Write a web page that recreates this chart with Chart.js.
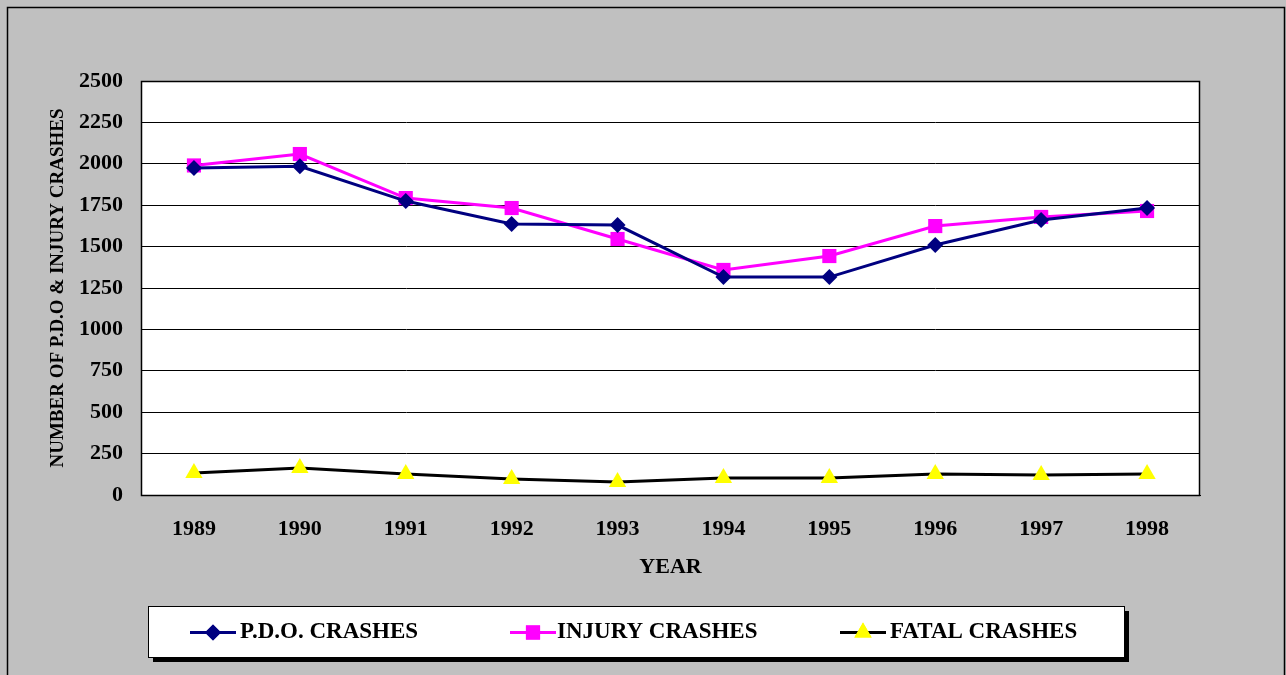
<!DOCTYPE html>
<html>
<head>
<meta charset="utf-8">
<script src="https://cdn.jsdelivr.net/npm/chart.js@4.4.1/dist/chart.umd.min.js"></script>
<style>
html,body{margin:0;padding:0;background:#c0c0c0;}
#wrap{position:relative;width:1286px;height:675px;}
</style>
</head>
<body>
<div id="wrap"><canvas id="c" width="1286" height="675"></canvas></div>
<script>
const years = ['1989','1990','1991','1992','1993','1994','1995','1996','1997','1998'];
const pdoCrashes = [1975, 1985, 1775, 1636, 1630, 1316, 1316, 1510, 1661, 1733];
const injuryCrashes = [1990, 2059, 1793, 1733, 1546, 1359, 1443, 1624, 1679, 1715];
const fatalCrashes = [133, 163, 127, 97, 79, 103, 103, 127, 121, 127];
const seriesNames = ['P.D.O. CRASHES', 'INJURY CRASHES', 'FATAL CRASHES'];
const yAxisTitle = 'NUMBER OF P.D.O & INJURY CRASHES';
const xAxisTitle = 'YEAR';

const FONT = '"Liberation Serif", "Times New Roman", serif';

function drawMarker(ctx, style, r, x, y, color) {
  ctx.save();
  ctx.fillStyle = color;
  ctx.strokeStyle = color;
  Chart.helpers.drawPoint(ctx, {pointStyle: style, radius: r, borderWidth: 0}, x, y);
  ctx.fill();
  ctx.restore();
}

const frame = {
  id: 'frame',
  beforeDraw(chart) {
    const ctx = chart.ctx, a = chart.chartArea;
    ctx.save();
    ctx.fillStyle = '#c0c0c0';
    ctx.fillRect(0, 0, chart.width, chart.height);
    ctx.strokeStyle = '#000';
    ctx.lineWidth = 1.5;
    ctx.strokeRect(7.5, 7.5, 1277, 700);
    ctx.fillStyle = '#fff';
    ctx.fillRect(a.left, a.top, a.right - a.left, a.bottom - a.top);
    ctx.restore();
  },
  afterDatasetsDraw(chart) {
    const ctx = chart.ctx, a = chart.chartArea;
    ctx.save();
    ctx.strokeStyle = '#000';
    ctx.lineWidth = 1.5;
    ctx.strokeRect(a.left + 0.5, a.top + 0.5, a.right - a.left - 1, a.bottom - a.top);
    ctx.restore();
  },
  afterDraw(chart) {
    const ctx = chart.ctx;
    const bx = 148, by = 606, bw = 976, bh = 51;
    ctx.save();
    ctx.fillStyle = '#000';
    ctx.fillRect(bx + 5, by + 5, bw, bh);
    ctx.fillStyle = '#fff';
    ctx.fillRect(bx, by, bw, bh);
    ctx.strokeStyle = '#000';
    ctx.lineWidth = 1;
    ctx.strokeRect(bx + 0.5, by + 0.5, bw, bh);
    const items = [{x0:190, tx:240}, {x0:510, tx:557}, {x0:840, tx:890}];
    const cy = by + bh / 2 + 1;
    chart.data.datasets.forEach((ds, i) => {
      const it = items[i];
      ctx.strokeStyle = ds.borderColor;
      ctx.lineWidth = 3;
      ctx.beginPath();
      ctx.moveTo(it.x0, cy);
      ctx.lineTo(it.x0 + 46, cy);
      ctx.stroke();
      drawMarker(ctx, ds.pointStyle, ds.pointRadius, it.x0 + 23, cy, ds.pointBackgroundColor);
      ctx.fillStyle = '#000';
      ctx.font = 'bold 23px ' + FONT;
      ctx.textBaseline = 'middle';
      ctx.textAlign = 'left';
      ctx.fillText(ds.label, it.tx, cy);
    });
    ctx.restore();
  }
};

new Chart(document.getElementById('c'), {
  type: 'line',
  data: {
    labels: years,
    datasets: [
      {label: seriesNames[0], data: pdoCrashes, borderColor: '#000080', backgroundColor: '#000080',
       pointBackgroundColor: '#000080', pointBorderColor: '#000080', pointBorderWidth: 0,
       pointStyle: 'rectRot', pointRadius: 8, borderWidth: 3, tension: 0},
      {label: seriesNames[1], data: injuryCrashes, borderColor: '#ff00ff', backgroundColor: '#ff00ff',
       pointBackgroundColor: '#ff00ff', pointBorderColor: '#ff00ff', pointBorderWidth: 0,
       pointStyle: 'rect', pointRadius: 10, borderWidth: 3, tension: 0},
      {label: seriesNames[2], data: fatalCrashes, borderColor: '#000000', backgroundColor: '#ffff00',
       pointBackgroundColor: '#ffff00', pointBorderColor: '#ffff00', pointBorderWidth: 0,
       pointStyle: 'triangle', pointRadius: 10, borderWidth: 3, tension: 0}
    ]
  },
  options: {
    responsive: false,
    animation: false,
    layout: {padding: {left: 0, top: 81, right: 86, bottom: 0}},
    plugins: {legend: {display: false}, tooltip: {enabled: false}},
    scales: {
      x: {
        offset: true,
        grid: {display: false, drawTicks: false},
        border: {display: true, color: '#000', width: 1},
        ticks: {color: '#000', font: {family: FONT, size: 22, weight: 'bold'}, padding: 21, maxRotation: 0},
        title: {display: true, text: xAxisTitle, color: '#000', font: {family: FONT, size: 22, weight: 'bold'}, padding: {top: 94, bottom: 94}},
        afterFit(s) { s.height = 180; }
      },
      y: {
        min: 0, max: 2500,
        grid: {color: '#000', lineWidth: 1, drawTicks: false},
        border: {display: true, color: '#000', width: 1},
        ticks: {stepSize: 250, color: '#000', font: {family: FONT, size: 22, weight: 'bold'}, padding: 18,
                callback: (v) => String(v)},
        title: {display: true, text: yAxisTitle, color: '#000', font: {family: FONT, size: 19, weight: 'bold'}, padding: {top: 47, bottom: 47}},
        afterFit(s) { s.width = 141; }
      }
    }
  },
  plugins: [frame]
});
</script>
</body>
</html>
